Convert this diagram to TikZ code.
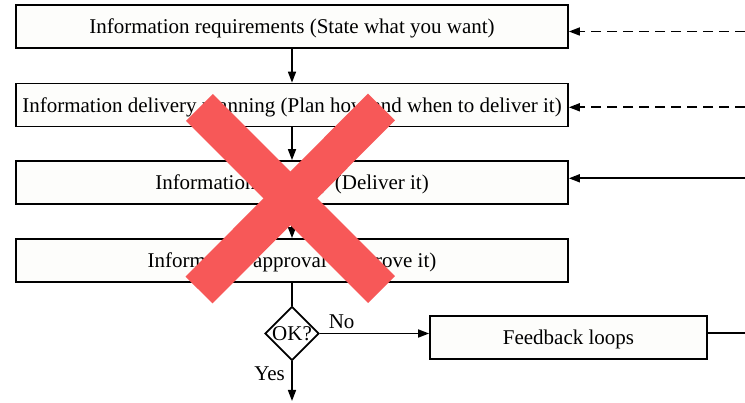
\documentclass[tikz,border=0pt]{standalone}
\usepackage{fontspec}
\setmainfont{Liberation Serif}
\usetikzlibrary{arrows.meta,shapes.geometric}
\definecolor{xred}{RGB}{247,88,88}
\definecolor{boxfill}{RGB}{253,253,251}
\begin{document}
\begin{tikzpicture}[x=1pt,y=-1pt,
  txt/.style={font=\fontsize{21}{24}\selectfont},
  box/.style={draw, line width=1.7pt, fill=boxfill, minimum width=552pt, minimum height=43pt, inner sep=0pt, text height=18pt, text depth=3pt, txt},
  fbbox/.style={draw, line width=1.7pt, fill=boxfill, minimum width=277pt, minimum height=43pt, inner sep=0pt, text height=18pt, text depth=3pt, txt},
  dec/.style={draw, line width=1.7pt, fill=white, shape=diamond, minimum width=52pt, minimum height=51pt, inner sep=0pt, txt},
  conn/.style={line width=1.6pt, -{Triangle[length=11pt,width=8pt]}},
  plain/.style={line width=1.6pt},
  dashedconn/.style={line width=1.6pt, dash pattern=on 10pt off 6pt, -{Triangle[length=11pt,width=8pt]}},
  cross/.style={line width=38pt, xred, line cap=butt}]
\useasboundingbox[fill=white] (0,0) rectangle (745,403);
\node[box] (b1) at (292,26.5) {Information requirements (State what you want)};
\node[box] (b2) at (292,105) {Information delivery planning (Plan how and when to deliver it)};
\node[box] (b3) at (292,182.5) {Information delivery (Deliver it)};
\node[box] (b4) at (292,260.5) {Information approval (Approve it)};
\node[dec] (ok) at (292,333.5) {OK?};
\node[fbbox] (fb) at (568.5,337.5) {Feedback loops};
\coordinate (r1) at (745,31.5);
\coordinate (r2) at (745,107.3);
\coordinate (r3) at (745,178.3);
\coordinate (r4) at (745,333.3);
\coordinate (out) at (292,401);
\draw[conn] (b1) -- (b2);
\draw[conn] (b2) -- (b3);
\draw[conn] (b3) -- (b4);
\draw[plain] (b4) -- (ok);
\draw[conn] (ok.east) -- (ok.east -| fb.west) node[pos=0.2, above=1pt, txt] (no) {No};
\draw[conn] (ok.south) -- (out) node[pos=0.32, left=3pt, txt] (yes) {Yes};
\draw[plain] (fb.east |- r4) -- (r4);
\draw[dashedconn] (r1) -- (r1 -| b1.east);
\draw[dashedconn] (r2) -- (r2 -| b2.east);
\draw[conn] (r3) -- (r3 -| b3.east);
\coordinate (x1) at (199.5,107.5);
\coordinate (x2) at (381.5,289.5);
\coordinate (x3) at (381.5,107);
\coordinate (x4) at (199,290);
\draw[cross] (x1) -- (x2);
\draw[cross] (x3) -- (x4);
\end{tikzpicture}
\end{document}
